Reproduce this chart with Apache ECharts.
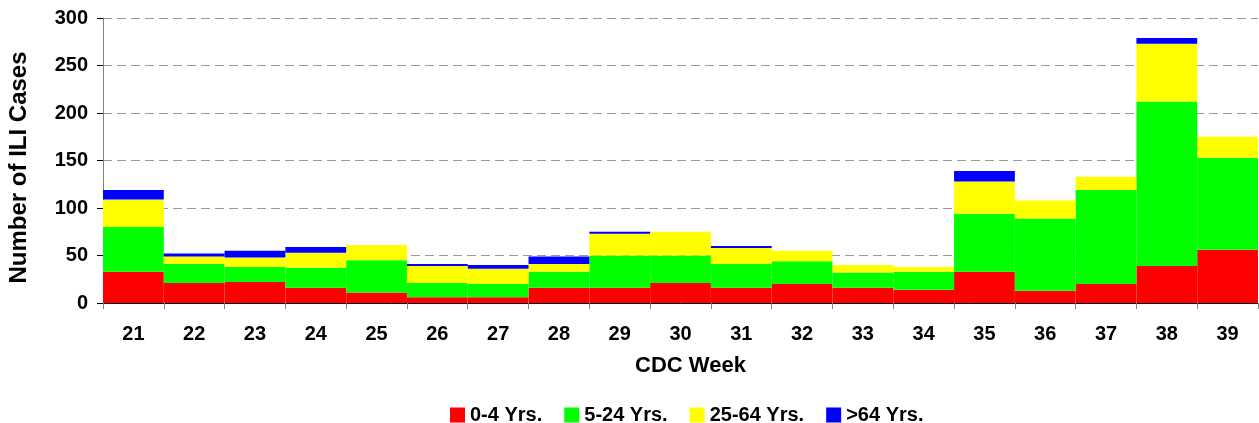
<!DOCTYPE html>
<html>
<head>
<meta charset="utf-8">
<script src="https://cdn.jsdelivr.net/npm/echarts@6/dist/echarts.min.js"></script>
<style>
html,body{margin:0;padding:0;background:#fff;}
#chart{width:1259px;height:423px;}
</style>
</head>
<body>
<div id="chart"></div>
<script>
const weeks = ['21','22','23','24','25','26','27','28','29','30','31','32','33','34','35','36','37','38','39'];
const age0to4 = [33,21,22,16,11,6,6,16,16,21,16,20,16,14,33,13,20,39,56];
const age5to24 = [47,20,16,21,34,15,14,17,34,29,25,24,16,19,61,76,99,173,97];
const age25to64 = [29,8,10,16,16,18,16,8,23,25,17,11,8,5,34,19,14,61,22];
const age64plus = [10,3,7,6,0,2,4,8,2,0,2,0,0,0,11,0,0,6,0];
const yTicks = {min:0, max:300, interval:50};

const FONT = '"Liberation Sans", Arial, sans-serif';
const chart = echarts.init(document.getElementById('chart'), null, {renderer:'canvas'});

function bar(name, data, color){
  return {name, type:'bar', stack:'total', data, barCategoryGap:'0%',
    itemStyle:{color}, emphasis:{disabled:true}};
}

chart.setOption({
  animation:false,
  backgroundColor:'#ffffff',
  grid:{left:103, right:1, top:18, bottom:120, containLabel:false, outerBoundsMode:'none'},
  legend:{
    top:400, left:445,
    itemWidth:15, itemHeight:15, itemGap:22,
    icon:'rect',
    textStyle:{fontFamily:FONT, fontWeight:'bold', fontSize:20, color:'#000'},
    data:['0-4 Yrs.','5-24 Yrs.','25-64 Yrs.','>64 Yrs.']
  },
  xAxis:{
    type:'category', data:weeks,
    name:'CDC Week', nameLocation:'middle', nameGap:52,
    nameTextStyle:{fontFamily:FONT, fontWeight:'bold', fontSize:22, color:'#000', padding:[0,0,0,20]},
    axisLine:{lineStyle:{color:'#000', width:1}},
    axisTick:{show:true, length:6, lineStyle:{color:'#808080'}},
    axisLabel:{margin:21, fontFamily:FONT, fontWeight:'bold', fontSize:20, color:'#000'}
  },
  yAxis:{
    type:'value', min:yTicks.min, max:yTicks.max, interval:yTicks.interval,
    name:'Number of ILI Cases', nameLocation:'middle', nameRotate:90, nameGap:72,
    nameTextStyle:{fontFamily:FONT, fontWeight:'bold', fontSize:24, color:'#000', padding:[0,14,0,0]},
    axisLine:{show:true, lineStyle:{color:'#808080', width:1}},
    axisTick:{show:true, length:6, lineStyle:{color:'#000'}},
    axisLabel:{margin:15, fontFamily:FONT, fontWeight:'bold', fontSize:20, color:'#000'},
    splitLine:{show:true, lineStyle:{color:'#999999', type:[9,5], width:1}}
  },
  series:[
    bar('0-4 Yrs.', age0to4, '#ff0000'),
    bar('5-24 Yrs.', age5to24, '#00ff00'),
    bar('25-64 Yrs.', age25to64, '#ffff00'),
    bar('>64 Yrs.', age64plus, '#0000ff')
  ]
});
</script>
</body>
</html>
